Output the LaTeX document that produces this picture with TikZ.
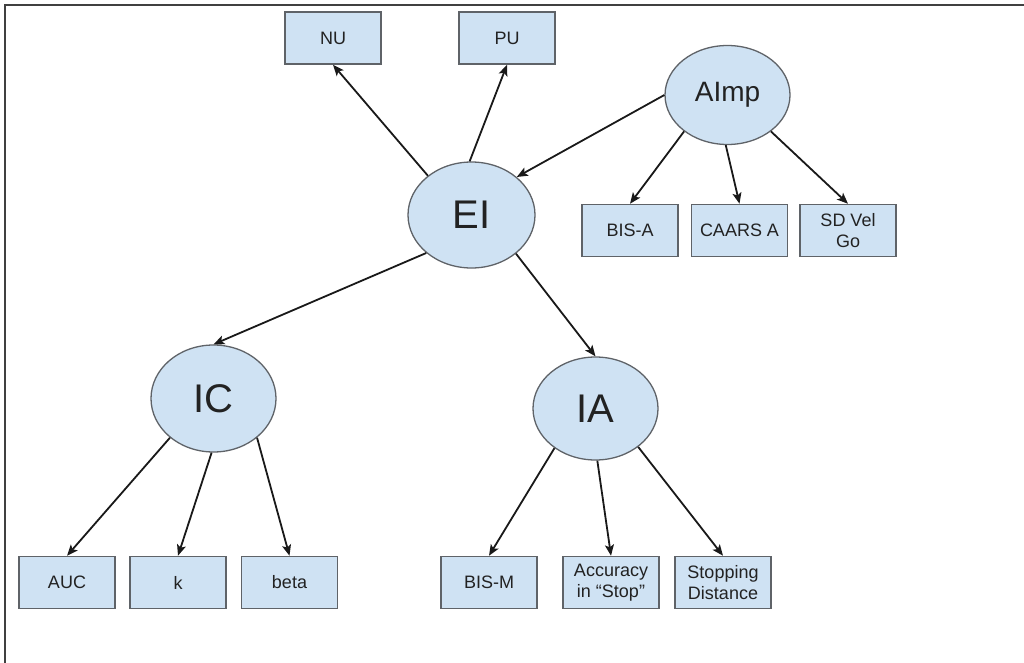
\documentclass[tikz,border=0pt]{standalone}
\usepackage{fontspec}
\setmainfont{Liberation Sans}
\usetikzlibrary{shapes.geometric,arrows.meta}
\definecolor{nodefill}{HTML}{CFE2F3}
\definecolor{nodeline}{HTML}{5F6368}
\definecolor{txt}{HTML}{222222}
\begin{document}
\begin{tikzpicture}[x=1pt,y=-1pt,
  box/.style={draw=nodeline, fill=nodefill, line width=1.5pt, minimum width=96pt, minimum height=52pt, inner sep=0pt, align=center, text=txt, font=\fontsize{18}{21}\selectfont},
  oval/.style={ellipse, draw=nodeline, fill=nodefill, line width=1.3pt, inner sep=0pt, text=txt},
  big/.style={font=\fontsize{40}{40}\selectfont},
  arr/.style={-{Stealth[length=11pt,width=9pt,inset=2.5pt]}, line width=1.8pt, draw=black!90}]
\useasboundingbox (0,0) rectangle (1024,663);
\draw[line width=1.8pt, color=black!75] (5,663) -- (5,5) -- (1024,5);

\node[box] (NU) at (333,38) {NU};
\node[box] (PU) at (507,38) {PU};
\node[oval, minimum width=125pt, minimum height=99pt, font=\fontsize{28}{30}\selectfont] (AImp) at (727.5,95) {AImp};
\node[oval, big, minimum width=127pt, minimum height=106pt] (EI) at (471.5,215) {EI};
\node[box] (BISA) at (630,230.5) {BIS-A};
\node[box] (CAARS) at (739.5,230.5) {CAARS A};
\node[box] (SDVel) at (848,230.5) {SD Vel\\Go};
\node[oval, big, minimum width=125pt, minimum height=107pt] (IC) at (213.5,398.5) {IC};
\node[oval, big, minimum width=125pt, minimum height=103pt] (IA) at (595.5,408.5) {IA};
\node[box] (AUC) at (67,582.5) {AUC};
\node[box] (k) at (178,582.5) {k};
\node[box] (beta) at (289.5,582.5) {beta};
\node[box] (BISM) at (489,582.5) {BIS-M};
\node[box] (Acc) at (611,582.5) {Accuracy\\in “Stop”};
\node[box] (Stop) at (723,582.5) {Stopping\\Distance};

\draw[arr] (EI.138) -- (NU.south);
\draw[arr] (EI.92) -- (PU.south);
\draw[arr] (AImp.west) -- (EI.40);
\draw[arr] (AImp.220) -- (BISA.north);
\draw[arr] (AImp.268) -- (CAARS.north);
\draw[arr] (AImp.320) -- (SDVel.north);
\draw[arr] (EI.220) -- (IC.north);
\draw[arr] (EI.319) -- (IA.north);
\draw[arr] (IC.222) -- (AUC.north);
\draw[arr] (IC.268) -- (k.north);
\draw[arr] (IC.318) -- (beta.north);
\draw[arr] (IA.224) -- (BISM.north);
\draw[arr] (IA.272) -- (Acc.north);
\draw[arr] (IA.318) -- (Stop.north);
\end{tikzpicture}
\end{document}
